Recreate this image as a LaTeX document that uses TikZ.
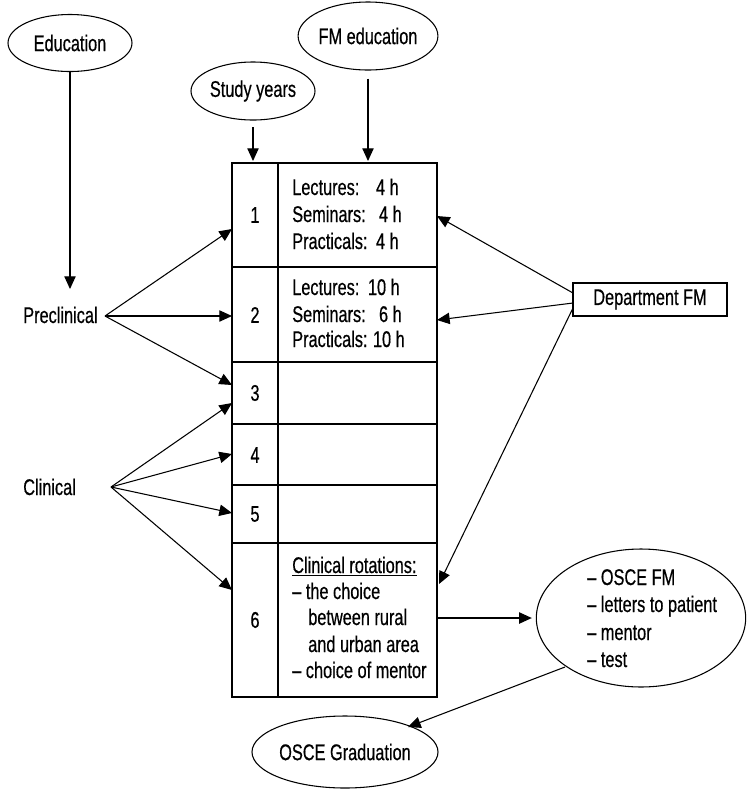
\documentclass[tikz,border=0pt]{standalone}
\usepackage{fontspec}
\setmainfont[FakeStretch=0.72, FakeBold=0.5]{Liberation Sans}
\usetikzlibrary{shapes.geometric,arrows.meta}
\begin{document}
\begin{tikzpicture}[x=0.75pt,y=-0.75pt,
  every node/.style={font=\fontsize{17}{19.7}\selectfont, inner sep=0pt},
  oval/.style={draw, ellipse, line width=0.8pt},
  ln/.style={line width=0.8pt},
  arr/.style={-{Triangle[length=9.5pt,width=8.5pt]}, line width=0.8pt},
  lbl/.style={anchor=base west},
  val/.style={anchor=base east},
  num/.style={anchor=center}]
\useasboundingbox (0,0) rectangle (747,790);

% ellipses
\node[oval, minimum width=93pt, minimum height=42.75pt] (edu) at (70,43) {Education};
\node[oval, minimum width=104pt, minimum height=51pt] (fm) at (368,36) {FM education};
\node[oval, minimum width=93pt, minimum height=43.5pt] (sy) at (253,91) {Study years};
\node[oval, minimum width=157pt, minimum height=103.5pt] (big) at (641,618) {};
\node[oval, minimum width=127.5pt, minimum height=54pt] (osce) at (345,752) {OSCE Graduation};
\node[draw, ln, minimum width=115.5pt, minimum height=24.75pt] (dep) at (650,299.5) {Department FM};

% table
\draw[ln] (232,163) rectangle (437,697);
\draw[ln] (278,163) -- (278,697);
\foreach \yy in {267,362,424,485,543} \draw[ln] (232,\yy) -- (437,\yy);

\node[num] (n1) at (255,215) {1};
\node[num] (n2) at (255,315) {2};
\node[num] (n3) at (255,393) {3};
\node[num] (n4) at (255,455) {4};
\node[num] (n5) at (255,514) {5};
\node[num] (n6) at (255,620) {6};

\node[lbl] (l1a) at (292,195) {Lectures:};
\node[lbl] (l1b) at (292,222) {Seminars:};
\node[lbl] (l1c) at (292,249) {Practicals:};
\node[val] (v1a) at (399,195) {4 h};
\node[val] (v1b) at (402,222) {4 h};
\node[val] (v1c) at (399,249) {4 h};
\node[lbl] (l2a) at (292,295) {Lectures:};
\node[lbl] (l2b) at (292,322) {Seminars:};
\node[lbl] (l2c) at (292,347) {Practicals:};
\node[val] (v2a) at (400,295) {10 h};
\node[val] (v2b) at (402,322) {6 h};
\node[val] (v2c) at (405,347) {10 h};

\node[lbl] (r6a) at (292,573) {\underline{Clinical rotations:}};
\node[lbl] (r6b) at (292,599) {– the choice};
\node[lbl] (r6c) at (308,625) {between rural};
\node[lbl] (r6d) at (308,652) {and urban area};
\node[lbl] (r6e) at (292,678) {– choice of mentor};

\node[lbl] (b1) at (587,585) {– OSCE FM};
\node[lbl] (b2) at (587,612) {– letters to patient};
\node[lbl] (b3) at (587,640) {– mentor};
\node[lbl] (b4) at (587,667) {– test};

\node[lbl] (pre) at (23,323) {Preclinical};
\node[lbl] (cli) at (23,495) {Clinical};

% coordinates
\coordinate (eduEnd) at (70,289);
\coordinate (syEnd) at (253,161);
\coordinate (fmEnd) at (368,161);
\coordinate (preP) at (105,316);
\coordinate (cliP) at (111,487);
\coordinate (t1) at (232,229);
\coordinate (t2) at (232,316);
\coordinate (t3a) at (232,385);
\coordinate (t3b) at (232,403);
\coordinate (t4) at (232,454);
\coordinate (t5) at (232,513);
\coordinate (t6) at (232,590);
\coordinate (d1s) at (573,293);
\coordinate (d2s) at (573,303);
\coordinate (d3s) at (573,308);
\coordinate (d1e) at (437,216);
\coordinate (d2e) at (437,320);
\coordinate (d3e) at (439,584);
\coordinate (r6out) at (437,618);
\coordinate (bigS) at (565,667);
\coordinate (osceE) at (408,727);

% arrows
\draw[arr] (edu.south) -- (eduEnd);
\draw[arr, shorten <=5pt] (sy.south) -- (syEnd);
\draw[arr, shorten <=6pt] (fm.south) -- (fmEnd);
\draw[arr] (preP) -- (t1);
\draw[arr] (preP) -- (t2);
\draw[arr] (preP) -- (t3a);
\draw[arr] (cliP) -- (t3b);
\draw[arr] (cliP) -- (t4);
\draw[arr] (cliP) -- (t5);
\draw[arr] (cliP) -- (t6);
\draw[arr] (d1s) -- (d1e);
\draw[arr] (d2s) -- (d2e);
\draw[arr] (d3s) -- (d3e);
\draw[arr, shorten >=3pt] (r6out) -- (big.west);
\draw[arr] (bigS) -- (osceE);
\end{tikzpicture}
\end{document}
